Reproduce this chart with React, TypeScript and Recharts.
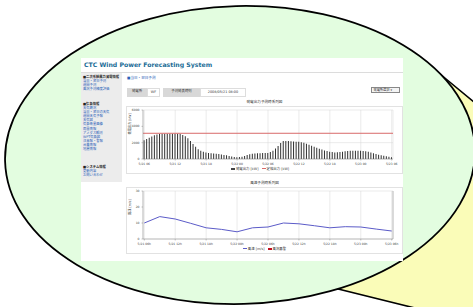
import { ComposedChart, Bar, Line, XAxis, YAxis, CartesianGrid, ReferenceLine, Legend, Label } from 'recharts';

// forecast runs 5/21 06:00 -> 5/23 06:00 in 30 min steps
const days = ['5/21', '5/22', '5/23'];
const slots: string[] = [];
days.forEach((d, di) => {
  for (let hr = 0; hr < 24; hr++) {
    if (di === 0 && hr < 6) continue;
    if (di === 2 && hr > 6) continue;
    const hh = String(hr).padStart(2, '0');
    slots.push(`${d} ${hh}`);
    if (!(di === 2 && hr === 6)) slots.push(`${d} ${hh}:30`);
  }
});

// 発電出力 [kW], every 30 min
const output = [
  2300, 2450, 2600, 2750, 2900, 3000, 3050, 3080, 3100, 3100, 3100, 3100,
  3100, 3080, 3050, 2950, 2800, 2550, 2200, 1850, 1500, 1200, 1000, 900,
  800, 750, 700, 680, 650, 600, 550, 500, 450, 380, 320, 260,
  200, 230, 280, 380, 500, 580, 650, 680, 700, 710, 720, 725,
  730, 850, 1000, 1300, 1600, 1950, 2200, 2200, 2200, 2180, 2150, 2120,
  2100, 2050, 2000, 1880, 1750, 1620, 1500, 1380, 1250, 1150, 1050, 980,
  900, 850, 800, 820, 850, 900, 950, 980, 1000, 1000, 1000, 1000,
  1000, 980, 950, 880, 800, 700, 600, 520, 450, 400, 350, 290,
  220,
];

// 風速 [m/s], every 3 hours from 5/21 06
const wind = [10, 14, 12.5, 9.8, 7, 6, 4.5, 7, 7.5, 10, 9.5, 8.3, 7, 7.7, 7.5, 6.2, 5];

const RATED = 3150;
const powerTicks = [0, 1000, 2000, 3000, 4000, 5000, 6000];
const windTicks = [0, 5, 10, 15, 20, 25, 30];
const alertTicks = [0, 0.16, 0.33, 0.5, 0.66, 0.83, 1];
const alertLabels = ['0', '0.16', '0.33', '0.5', '0.66', '0.83', '1'];

const sideMenu = [
  { head: '■二次系統風力発電情報', links: ['当日・翌日予測', '週間予測', '風況予測精度評価'] },
  { head: '■気象情報', links: ['天気概況', '当日・翌日の天気', '週間天気予報', '天気図', '気象衛星画像', '雨雲情報', 'アメダス観測', 'WPT気象図', '注意報・警報', '台風情報', '地震情報'] },
  { head: '■システム情報', links: ['更新内容', 'お問い合わせ'] },
];

const powerData = slots.map((h, i) => ({ h, output: output[i] }));
const windData = slots.map((h, i) => ({ h, wind: i % 6 === 0 ? wind[i / 6] : null }));

const FONT = '"DejaVu Sans", "Noto Sans CJK JP", sans-serif';
const tick = { fontSize: 3, fill: '#444' };

export default function App() {
  return (
    <div style={{ position: 'absolute', left: 0, top: 0, width: 473, height: 307, overflow: 'hidden', background: '#fff', fontFamily: FONT }}>
      <svg width={473} height={307} style={{ position: 'absolute', left: 0, top: 0 }}>
        <polygon points="440,74 560,173 560,344 318,284" fill="#fafcb8" stroke="#000" strokeWidth={1.6} />
        <ellipse cx={240} cy={155} rx={235} ry={149} fill="#e3fde0" stroke="#000" strokeWidth={1.8} transform="rotate(-1.5 240 155)" />
      </svg>

      <div style={{ position: 'absolute', left: 81, top: 58, width: 322, height: 203, background: '#fff' }}>
        <div style={{ position: 'absolute', left: 3, top: 3, fontSize: 6.2, fontWeight: 'bold', color: '#1a6c96', whiteSpace: 'nowrap' }}>
          CTC Wind Power Forecasting System
        </div>
        <div style={{ position: 'absolute', left: 0, top: 14, width: 322, height: 1, background: '#dcdcdc' }} />

        <div style={{ position: 'absolute', left: 0, top: 15, width: 41, height: 109, background: '#ececec' }}>
          {sideMenu.map((sec, si) => (
            <div key={si} style={{ position: 'absolute', left: 2, top: [2, 29, 92][si], width: 38, fontSize: 3.3, lineHeight: '4.1px' }}>
              <div style={{ fontWeight: 'bold', color: '#222' }}>{sec.head}</div>
              {sec.links.map((l) => (
                <div key={l} style={{ color: '#2b62b8', whiteSpace: 'nowrap' }}>{l}</div>
              ))}
            </div>
          ))}
        </div>

        <div style={{ position: 'absolute', left: 46, top: 17, fontSize: 3.6, color: '#2b62b8', whiteSpace: 'nowrap' }}>■当日・翌日予測</div>

        <div style={{ position: 'absolute', left: 46, top: 30, display: 'flex', fontSize: 3.4, color: '#333', lineHeight: '7px', whiteSpace: 'nowrap' }}>
          <div style={{ width: 20, textAlign: 'center', background: '#d8d8d8' }}>発電所</div>
          <div style={{ width: 13, textAlign: 'center', background: '#fff', border: '0.5px solid #ddd', boxSizing: 'border-box' }}>WF</div>
          <div style={{ width: 3 }} />
          <div style={{ width: 37, textAlign: 'center', background: '#d8d8d8' }}>予測発表時刻</div>
          <div style={{ width: 46, textAlign: 'center', background: '#fff', border: '0.5px solid #ddd', boxSizing: 'border-box' }}>2008/05/21 08:00</div>
        </div>

        <div style={{ position: 'absolute', left: 290, top: 29, width: 29, height: 6, border: '0.5px solid #888', boxSizing: 'border-box', background: '#f4f4f4', fontSize: 3.2, lineHeight: '5px', color: '#333', paddingLeft: 1.5, whiteSpace: 'nowrap' }}>
          発電所選択 ▾
        </div>

        <div style={{ position: 'absolute', left: 45, top: 41, width: 277, textAlign: 'center', fontSize: 3.6, color: '#333' }}>発電出力予測時系列図</div>
        <div style={{ position: 'absolute', left: 45, top: 48, width: 277, height: 68, border: '1px solid #e2e2e2', boxSizing: 'border-box' }}>
          <ComposedChart width={275} height={66} data={powerData} margin={{ top: 3, right: 9, left: 0, bottom: 0 }} barCategoryGap="22%">
            <CartesianGrid stroke="#d6d6d6" strokeWidth={0.5} />
            <XAxis dataKey="h" scale="band" interval={11} tick={tick} tickSize={1.5} height={6} stroke="#888" strokeWidth={0.5} />
            <YAxis domain={[0, 6000]} ticks={powerTicks} tick={tick} tickSize={1.5} width={16} stroke="#888" strokeWidth={0.5}>
              <Label value="発電出力 [kW]" angle={-90} position="insideLeft" offset={3} style={{ fontSize: 3.2, fill: '#333' }} />
            </YAxis>
            <Bar dataKey="output" fill="#303030" isAnimationActive={false} />
            <ReferenceLine y={RATED} stroke="#d86a6a" strokeWidth={1} />
            <Legend verticalAlign="bottom" height={8} content={() => (
              <div style={{ fontSize: 3.4, color: '#333', textAlign: 'center', lineHeight: '8px', whiteSpace: 'nowrap' }}>
                <span style={{ display: 'inline-block', width: 4, height: 2.5, background: '#444', marginRight: 1 }} />発電出力 [kW]
                <span style={{ display: 'inline-block', width: 4, height: 0.8, background: '#d86a6a', margin: '0 1px 1px 3px', verticalAlign: 'middle' }} />定格出力 [kW]
              </div>
            )} />
          </ComposedChart>
        </div>

        <div style={{ position: 'absolute', left: 45, top: 122, width: 277, textAlign: 'center', fontSize: 3.6, color: '#333' }}>風速予測時系列図</div>
        <div style={{ position: 'absolute', left: 45, top: 129, width: 277, height: 67, border: '1px solid #e2e2e2', boxSizing: 'border-box' }}>
          <ComposedChart width={275} height={65} data={windData} margin={{ top: 3, right: 0, left: 0, bottom: 0 }}>
            <CartesianGrid stroke="#d6d6d6" strokeWidth={0.5} />
            <XAxis dataKey="h" scale="band" interval={11} tick={tick} tickSize={1.5} height={6} stroke="#888" strokeWidth={0.5} tickFormatter={(v) => v + 'h'} />
            <YAxis yAxisId="left" domain={[0, 30]} ticks={windTicks} tick={tick} tickSize={1.5} width={16} stroke="#888" strokeWidth={0.5}>
              <Label value="風速 [m/s]" angle={-90} position="insideLeft" offset={3} style={{ fontSize: 3.2, fill: '#333' }} />
            </YAxis>
            <YAxis yAxisId="right" orientation="right" domain={[0, 1]} ticks={alertTicks} tick={tick} tickSize={1.5} width={9} stroke="#888" strokeWidth={0.5}
              tickFormatter={(v) => alertLabels[alertTicks.indexOf(v)]} />
            <Line yAxisId="left" dataKey="wind" type="linear" stroke="#5b5bc8" strokeWidth={1} dot={false} connectNulls isAnimationActive={false} />
            <Legend verticalAlign="bottom" height={8} content={() => (
              <div style={{ fontSize: 3.4, color: '#333', textAlign: 'center', lineHeight: '8px', whiteSpace: 'nowrap' }}>
                <span style={{ display: 'inline-block', width: 4, height: 0.8, background: '#5b5bc8', margin: '0 1px 1px 0', verticalAlign: 'middle' }} />風速 [m/s]
                <span style={{ display: 'inline-block', width: 4, height: 2.5, background: '#c01020', margin: '0 1px 0 3px' }} />風況悪警
              </div>
            )} />
          </ComposedChart>
        </div>
      </div>
    </div>
  );
}
